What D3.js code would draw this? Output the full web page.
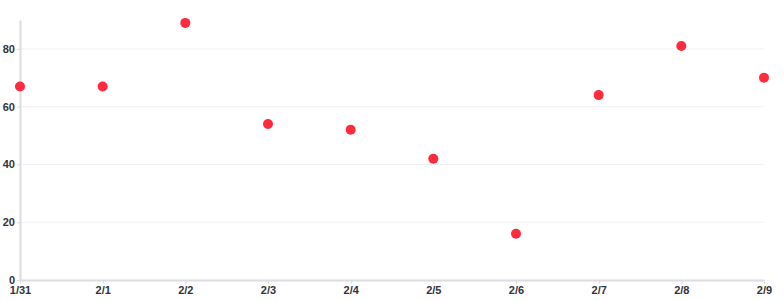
<!DOCTYPE html>
<html>
<head>
<meta charset="utf-8">
<script src="https://cdn.jsdelivr.net/npm/d3@7"></script>
<style>
  body { margin: 0; background: #fff; }
  .axis text { font-family: Helvetica, Arial, "Liberation Sans", sans-serif; font-size: 11px; fill: #33333d; font-weight: bold; }
  .axis path, .axis line { stroke: #dcdce2; }
</style>
</head>
<body>
<div id="chart"></div>
<script>
var dates = ["1/31", "2/1", "2/2", "2/3", "2/4", "2/5", "2/6", "2/7", "2/8", "2/9"];
var values = [67, 67, 89, 54, 52, 42, 16, 64, 81, 70];
var yTicks = [0, 20, 40, 60, 80];

var margin = {top: 20, right: 20, bottom: 20, left: 20},
    width = 784 - margin.left - margin.right,
    height = 300 - margin.top - margin.bottom;

var svg = d3.select("#chart")
    .append("svg")
    .attr("width", 784)
    .attr("height", 300)
    .append("g")
    .attr("transform", "translate(" + margin.left + "," + margin.top + ")");

var x = d3.scalePoint()
    .domain(dates)
    .range([0, width]);

var y = d3.scaleLinear()
    .domain([0, 90])
    .range([height, 0]);

// grid
svg.append("g")
    .selectAll("line")
    .data(yTicks.slice(1))
    .enter()
    .append("line")
    .attr("x1", 0)
    .attr("x2", width)
    .attr("y1", function(d) { return y(d); })
    .attr("y2", function(d) { return y(d); })
    .attr("stroke", "#f2f2f4");

// y axis
var yAxis = svg.append("g")
    .attr("class", "axis")
    .call(d3.axisLeft(y).tickValues(yTicks).tickSize(3).tickPadding(2).tickSizeOuter(0));

// x axis
var xAxis = svg.append("g")
    .attr("class", "axis")
    .attr("transform", "translate(0," + height + ")")
    .call(d3.axisBottom(x).tickSize(4).tickPadding(2).tickSizeOuter(0));

svg.selectAll(".axis path").attr("stroke-width", 2);

// points
svg.selectAll("circle")
    .data(values)
    .enter()
    .append("circle")
    .attr("cx", function(d, i) { return x(dates[i]); })
    .attr("cy", function(d) { return y(d); })
    .attr("r", 5)
    .attr("fill", "#ff2a3c");
</script>
</body>
</html>
